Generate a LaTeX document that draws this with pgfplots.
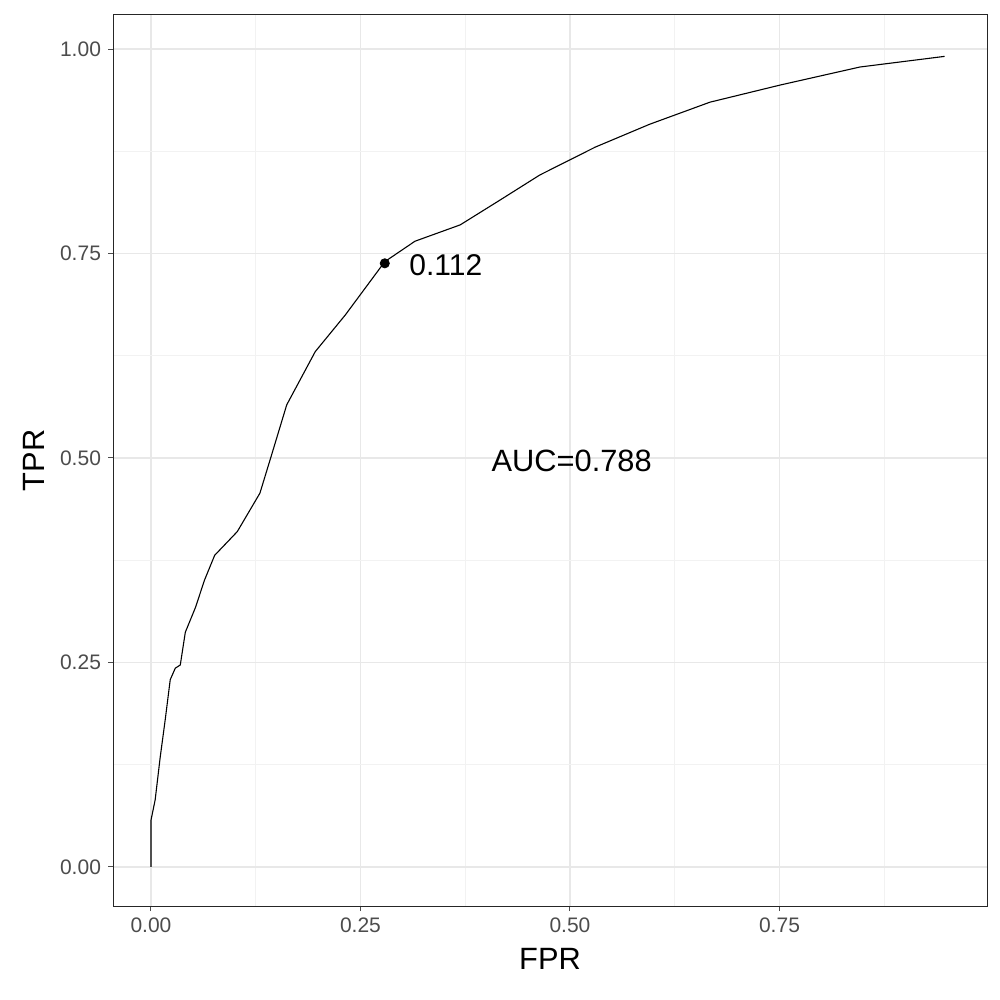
\documentclass[border=0pt]{standalone}
\usepackage{pgfplots}
\pgfplotsset{compat=1.18}
\usepackage{fontspec}
\setmainfont{Liberation Sans}
\usetikzlibrary{calc}
\begin{document}
\begin{tikzpicture}
\begin{axis}[name=ax, scale only axis, width=437pt, height=445.5pt,
  xmin=-0.0453, xmax=0.9976, ymin=-0.0477, ymax=1.0416,
  xtick={0,0.25,0.5,0.75}, ytick={0,0.25,0.5,0.75,1},
  minor xtick={0.125,0.375,0.625,0.875}, minor ytick={0.125,0.375,0.625,0.875},
  xticklabels={0.00,0.25,0.50,0.75}, yticklabels={0.00,0.25,0.50,0.75,1.00},
  xtick pos=bottom, ytick pos=left,
  grid=both, major grid style={color=black!9, line width=0.6pt},
  minor grid style={color=black!5, line width=0.4pt},
  axis line style={color=black!85, line width=0.5pt},
  tick align=outside, major tick length=2.5pt, minor tick length=0pt,
  tick style={color=black!70, line width=0.5pt},
  ticklabel style={font=\fontsize{10.5}{12}\selectfont, text=black!70},
  /pgf/number format/assume math mode=true,
  xlabel={FPR}, ylabel={TPR},
  label style={font=\fontsize{15.4}{17}\selectfont},
  xlabel style={yshift=-1pt}, ylabel style={yshift=1pt},
]
\addplot[black, line width=0.55pt] coordinates {
(0,0) (0,0.057) (0.005,0.082) (0.011,0.134) (0.017,0.18) (0.023,0.229) (0.029,0.243) (0.035,0.247) (0.041,0.287) (0.053,0.317) (0.064,0.351) (0.076,0.381) (0.103,0.41) (0.13,0.457) (0.144,0.504) (0.162,0.565) (0.196,0.63) (0.232,0.675) (0.279,0.74) (0.315,0.765) (0.369,0.785) (0.416,0.815) (0.464,0.846) (0.53,0.88) (0.595,0.908) (0.667,0.935) (0.751,0.956) (0.846,0.978) (0.947,0.991)};
\addplot[only marks, mark=*, mark size=2.3pt, black] coordinates {(0.279,0.738)};
\node[anchor=west, font=\fontsize{15}{17}\selectfont] at (axis cs:0.3,0.736) {0.112};
\node[font=\fontsize{15.4}{17}\selectfont] at (axis cs:0.502,0.496) {AUC=0.788};
\end{axis}
\path ([xshift=-56.5pt,yshift=-47pt]ax.south west) rectangle ([xshift=6.5pt,yshift=7.5pt]ax.north east);
\end{tikzpicture}
\end{document}
